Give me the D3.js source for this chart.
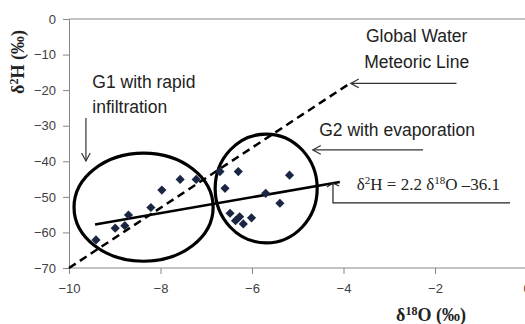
<!DOCTYPE html>
<html>
<head>
<meta charset="utf-8">
<script src="https://cdn.jsdelivr.net/npm/d3@7"></script>
<style>
  body { margin: 0; background: #fff; }
  text { font-family: "Liberation Sans", Arial, sans-serif; }
</style>
</head>
<body>
<script>
// isotope samples
var d18O = [-9.41, -8.99, -8.78, -8.70, -8.21, -7.97, -7.57, -7.22,
            -6.70, -6.30, -5.18, -6.59, -5.70, -5.39, -6.48, -6.36, -6.19, -6.01, -6.27];
var d2H  = [-62.1, -58.8, -58.1, -55.1, -53.0, -48.1, -45.1, -45.1,
            -42.9, -42.9, -43.9, -47.6, -49.0, -51.8, -54.6, -56.7, -57.6, -55.9, -55.6];

// global meteoric water line and the trend line (end points)
var gmwlX = [-10, -3.86], gmwlY = [-70, -18.1];
var trendX = [-9.43, -4.08], trendY = [-57.8, -45.8];

// group ellipses: centre and radii in data units
var groups = [
  {name: "G1", cx: -8.37, cy: -52.9, rx: 1.52, ry: 15.2},
  {name: "G2", cx: -5.69, cy: -47.65, rx: 1.115, ry: 15.3}
];

var xTicks = [-10, -8, -6, -4, -2, 0];
var yTicks = [0, -10, -20, -30, -40, -50, -60, -70];

var W = 525, H = 324;
var svg = d3.select("body").append("svg").attr("width", W).attr("height", H);

var x = d3.scaleLinear().domain([-10, 0]).range([69, 526.5]);
var y = d3.scaleLinear().domain([-70, 0]).range([268, 19]);

var axisCol = "#868686";

// top line at 0
svg.append("line")
  .attr("x1", x(-10)).attr("x2", W)
  .attr("y1", y(0)).attr("y2", y(0))
  .attr("stroke", axisCol).attr("stroke-width", 1);

var yAxis = svg.append("g").attr("transform", "translate(" + x(-10) + ",0)")
  .call(d3.axisLeft(y).tickValues(yTicks).tickSize(6).tickPadding(7).tickFormat(d3.format("d")));
var xAxis = svg.append("g").attr("transform", "translate(0," + y(-70) + ")")
  .call(d3.axisBottom(x).tickValues(xTicks).tickSize(6).tickPadding(10).tickFormat(d3.format("d")));

[xAxis, yAxis].forEach(function(a) {
  a.select(".domain").attr("stroke", axisCol);
  a.selectAll(".tick line").attr("stroke", axisCol);
  a.selectAll(".tick text").attr("fill", "#404040")
    .style("font-size", "13px").style("font-family", "Liberation Sans, Arial, sans-serif");
});
xAxis.select(".domain").attr("d", "M" + x(-10) + ",0H" + W);

// axis titles
var yt = svg.append("text")
  .attr("transform", "translate(24," + 62 + ") rotate(-90)")
  .attr("text-anchor", "middle")
  .style("font-family", "Liberation Serif, serif").style("font-weight", "bold").style("font-size", "18px")
  .attr("fill", "#222");
yt.append("tspan").text("δ");
yt.append("tspan").attr("dy", -6).style("font-size", "12px").text("2");
yt.append("tspan").attr("dy", 6).text("H (‰)");

var xt = svg.append("text")
  .attr("x", 431).attr("y", 321)
  .attr("text-anchor", "middle")
  .style("font-family", "Liberation Serif, serif").style("font-weight", "bold").style("font-size", "18px")
  .attr("fill", "#222");
xt.append("tspan").text("δ");
xt.append("tspan").attr("dy", -6).style("font-size", "12px").text("18");
xt.append("tspan").attr("dy", 6).text("O (‰)");

// GMWL dashed
svg.append("line")
  .attr("x1", x(gmwlX[0])).attr("y1", y(gmwlY[0]))
  .attr("x2", x(gmwlX[1])).attr("y2", y(gmwlY[1]))
  .attr("stroke", "#000").attr("stroke-width", 2.5).attr("stroke-dasharray", "8,5");

// ellipses
svg.selectAll("ellipse").data(groups).enter().append("ellipse")
  .attr("cx", function(d) { return x(d.cx); })
  .attr("cy", function(d) { return y(d.cy); })
  .attr("rx", function(d) { return x(d.cx + d.rx) - x(d.cx); })
  .attr("ry", function(d) { return y(d.cy - d.ry) - y(d.cy); })
  .attr("fill", "none").attr("stroke", "#000").attr("stroke-width", 3.2);

// trend line
svg.append("line")
  .attr("x1", x(trendX[0])).attr("y1", y(trendY[0]))
  .attr("x2", x(trendX[1])).attr("y2", y(trendY[1]))
  .attr("stroke", "#000").attr("stroke-width", 2.5);

// points
var pts = d18O.map(function(v, i) { return [v, d2H[i]]; });
svg.selectAll("path.pt").data(pts).enter().append("path")
  .attr("class", "pt")
  .attr("d", d3.symbol(d3.symbolSquare, 42))
  .attr("transform", function(d) { return "translate(" + x(d[0]) + "," + y(d[1]) + ") rotate(45)"; })
  .attr("fill", "#1b2742");

// annotation arrows (data units)
function arrow(x1, y1, x2, y2) {
  var px1 = x(x1), py1 = y(y1), px2 = x(x2), py2 = y(y2);
  var a = Math.atan2(py2 - py1, px2 - px1), L = 9, s = 0.5;
  svg.append("line").attr("x1", px1).attr("y1", py1).attr("x2", px2).attr("y2", py2)
    .attr("stroke", "#333").attr("stroke-width", 1.2);
  svg.append("path")
    .attr("d", "M" + (px2 - L * Math.cos(a - s)) + "," + (py2 - L * Math.sin(a - s)) +
               "L" + px2 + "," + py2 +
               "L" + (px2 - L * Math.cos(a + s)) + "," + (py2 - L * Math.sin(a + s)))
    .attr("fill", "none").attr("stroke", "#333").attr("stroke-width", 1.2);
}
arrow(-9.63, -27.8, -9.63, -39.9);
arrow(-1.53, -18.1, -3.84, -18.1);
arrow(-2.26, -36.8, -4.67, -36.8);

// equation callout
svg.append("path")
  .attr("d", "M" + x(-0.36) + "," + y(-51.7) + "H" + x(-4.23) + "V" + y(-46.1))
  .attr("fill", "none").attr("stroke", "#222").attr("stroke-width", 1.2);
svg.append("path")
  .attr("d", "M" + (x(-4.23) - 6) + "," + (y(-46.1) + 4) + "L" + x(-4.23) + "," + y(-46.1) + "L" + (x(-4.23) + 6) + "," + (y(-46.1) + 3))
  .attr("fill", "none").attr("stroke", "#222").attr("stroke-width", 1.2);

// labels
function label(tx, lines, anchor) {
  lines.forEach(function(l) {
    svg.append("text").attr("x", x(tx)).attr("y", y(l[1]))
      .attr("text-anchor", anchor).style("font-size", "17.5px").attr("fill", "#222").text(l[0]);
  });
}
label(-9.49, [["G1 with rapid", -19.4], ["infiltration", -26.4]], "start");
label(-2.40, [["Global Water", -6.6], ["Meteoric Line", -13.8]], "middle");
label(-4.53, [["G2 with evaporation", -33.0]], "start");

var eq = svg.append("text").attr("x", x(-3.71)).attr("y", y(-48.0))
  .style("font-family", "Liberation Serif, serif").style("font-size", "17px").attr("fill", "#222");
eq.append("tspan").text("δ");
eq.append("tspan").attr("dy", -6).style("font-size", "11px").text("2");
eq.append("tspan").attr("dy", 6).text("H = 2.2 δ");
eq.append("tspan").attr("dy", -6).style("font-size", "11px").text("18");
eq.append("tspan").attr("dy", 6).text("O –36.1");
</script>
</body>
</html>
